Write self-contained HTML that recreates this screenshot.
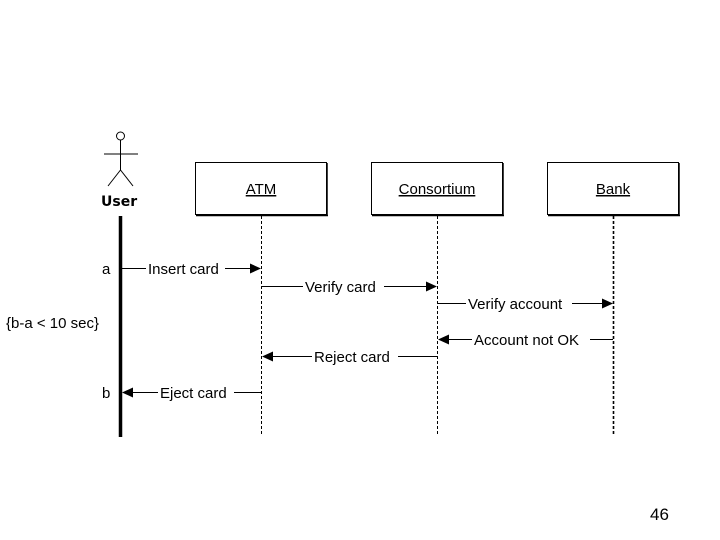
<!DOCTYPE html>
<html><head><meta charset="utf-8"><style>
html,body{margin:0;padding:0;background:#fff;}
svg{display:block;}
text{font-family:"Liberation Sans",Arial,sans-serif;font-size:15px;fill:#000;}
</style></head><body>
<svg width="720" height="540" viewBox="0 0 720 540" xmlns="http://www.w3.org/2000/svg">
<!-- actor -->
<circle cx="120.5" cy="136" r="4" fill="#fff" stroke="#000" stroke-width="1"/>
<line x1="120.5" y1="140" x2="120.5" y2="170" stroke="#000"/>
<line x1="104" y1="154" x2="138" y2="154" stroke="#000"/>
<line x1="120.5" y1="170" x2="108" y2="186" stroke="#000"/>
<line x1="120.5" y1="170" x2="133" y2="186" stroke="#000"/>
<text x="101" y="206" style="font-weight:bold;font-family:'DejaVu Sans',sans-serif;font-size:14px">User</text>
<line x1="120.5" y1="216" x2="120.5" y2="437" stroke="#000" stroke-width="3.5"/>
<!-- boxes -->
<g fill="#fff" stroke="#000">
<rect x="195.5" y="162.5" width="131" height="52"/>
<rect x="371.5" y="162.5" width="131" height="52"/>
<rect x="547.5" y="162.5" width="131" height="52"/>
</g>
<g stroke="#000" stroke-width="1.5">
<line x1="327" y1="163" x2="327" y2="216"/><line x1="196" y1="215.5" x2="328" y2="215.5"/>
<line x1="503" y1="163" x2="503" y2="216"/><line x1="372" y1="215.5" x2="504" y2="215.5"/>
<line x1="679" y1="163" x2="679" y2="216"/><line x1="548" y1="215.5" x2="680" y2="215.5"/>
</g>
<text x="261" y="194" text-anchor="middle" text-decoration="underline">ATM</text>
<text x="437" y="194" text-anchor="middle" text-decoration="underline">Consortium</text>
<text x="613" y="194" text-anchor="middle" text-decoration="underline">Bank</text>
<!-- lifelines -->
<g stroke="#000" stroke-dasharray="3,2">
<line x1="261.5" y1="216" x2="261.5" y2="434"/>
<line x1="437.5" y1="216" x2="437.5" y2="434"/>
<line x1="613.5" y1="216" x2="613.5" y2="434" stroke-width="1.6"/>
</g>
<!-- messages -->
<g stroke="#000">
<line x1="122" y1="268.5" x2="146" y2="268.5"/><line x1="225" y1="268.5" x2="252" y2="268.5"/>
<line x1="262" y1="286.5" x2="303" y2="286.5"/><line x1="384" y1="286.5" x2="428" y2="286.5"/>
<line x1="438" y1="303.5" x2="466" y2="303.5"/><line x1="572" y1="303.5" x2="604" y2="303.5"/>
<line x1="446" y1="339.5" x2="472" y2="339.5"/><line x1="590" y1="339.5" x2="613" y2="339.5"/>
<line x1="270" y1="356.5" x2="312" y2="356.5"/><line x1="398" y1="356.5" x2="437" y2="356.5"/>
<line x1="131" y1="392.5" x2="158" y2="392.5"/><line x1="234" y1="392.5" x2="261" y2="392.5"/>
</g>
<g fill="#000">
<polygon points="250,263.5 261,268.5 250,273.5"/>
<polygon points="426,281.5 437,286.5 426,291.5"/>
<polygon points="602,298.5 613,303.5 602,308.5"/>
<polygon points="449,334.5 438,339.5 449,344.5"/>
<polygon points="273,351.5 262,356.5 273,361.5"/>
<polygon points="133,387.5 122,392.5 133,397.5"/>
</g>
<text x="148" y="274">Insert card</text>
<text x="305" y="292">Verify card</text>
<text x="468" y="309">Verify account</text>
<text x="474" y="345">Account not OK</text>
<text x="314" y="362">Reject card</text>
<text x="160" y="398">Eject card</text>
<text x="102" y="274">a</text>
<text x="102" y="398">b</text>
<text x="6" y="328">{b-a &lt; 10 sec}</text>
<text x="650" y="520" style="font-size:17px">46</text>
</svg>
</body></html>
